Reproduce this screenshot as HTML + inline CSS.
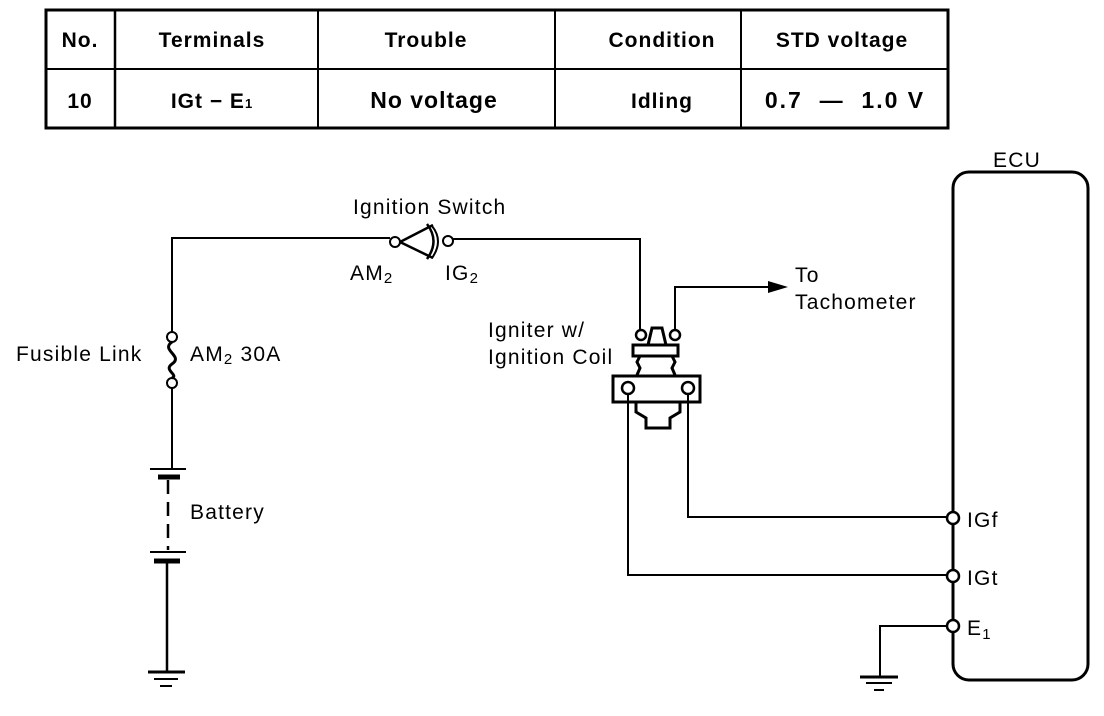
<!DOCTYPE html>
<html><head><meta charset="utf-8"><style>
html,body{margin:0;padding:0;background:#fff;}
svg{display:block;}
text{font-family:"Liberation Sans",sans-serif;fill:#000;}
</style></head><body>
<svg width="1104" height="716" viewBox="0 0 1104 716" xmlns="http://www.w3.org/2000/svg">
<g fill="none" stroke="#000">
<rect x="46" y="10" width="902" height="118" stroke-width="3"/>
<line x1="46" y1="69" x2="948" y2="69" stroke-width="2"/>
<line x1="115" y1="10" x2="115" y2="128" stroke-width="2.5"/>
<line x1="318" y1="10" x2="318" y2="128" stroke-width="2"/>
<line x1="555" y1="10" x2="555" y2="128" stroke-width="2"/>
<line x1="741" y1="10" x2="741" y2="128" stroke-width="2"/>

<polyline points="172,332 172,238 390,238" stroke-width="2"/>
<circle cx="395" cy="242" r="5" stroke-width="2"/>
<path d="M400,242 L433,225 M400,242 L433,258 M427,224 Q440,241 427,259" stroke-width="2.5"/>
<path d="M432,226 Q444,241 432,258" stroke-width="2"/>
<circle cx="448" cy="241" r="5" stroke-width="2"/>
<polyline points="453,239 640,239 640,330" stroke-width="2"/>

<circle cx="172" cy="337" r="5" stroke-width="2"/>
<path d="M172,342 C160,350 184,356 172,364 C163,370 179,375 172,378" stroke-width="3"/>
<circle cx="172" cy="383" r="5" stroke-width="2"/>
<line x1="172" y1="388" x2="172" y2="469" stroke-width="2"/>
<line x1="150" y1="469" x2="186" y2="469" stroke-width="2"/>
<line x1="158" y1="477" x2="180" y2="477" stroke-width="5"/>
<line x1="168" y1="480" x2="168" y2="550" stroke-width="2.5" stroke-dasharray="14,8"/>
<line x1="150" y1="552" x2="186" y2="552" stroke-width="2"/>
<line x1="154" y1="561" x2="180" y2="561" stroke-width="5"/>
<line x1="167" y1="561" x2="167" y2="672" stroke-width="2.5"/>
<line x1="148" y1="672" x2="185" y2="672" stroke-width="3"/>
<line x1="154" y1="679" x2="178" y2="679" stroke-width="2"/>
<line x1="160" y1="686" x2="172" y2="686" stroke-width="2"/>

<path d="M648,345 L652,328 L662,328 L666,345" stroke-width="3"/>
<circle cx="641" cy="335" r="5" stroke-width="2.5"/>
<circle cx="675" cy="335" r="5" stroke-width="2.5"/>
<rect x="633" y="345" width="45" height="11" stroke-width="3"/>
<path d="M640,356 L637,362 L640,368 L637,375 M672,356 L675,362 L672,368 L675,375" stroke-width="3"/>
<rect x="613" y="376" width="87" height="26" stroke-width="3"/>
<circle cx="628" cy="388" r="6" stroke-width="2.5"/>
<circle cx="688" cy="388" r="6" stroke-width="2.5"/>
<path d="M636,402 L636,412 L646,418 L646,428 L670,428 L670,418 L680,412 L680,402" stroke-width="3"/>
<polyline points="675,330 675,287 770,287" stroke-width="2"/>
<polygon points="768,281 788,287 768,293" fill="#000" stroke="none"/>
<polyline points="628,394 628,575 948,575" stroke-width="2"/>
<polyline points="688,394 688,517 948,517" stroke-width="2"/>

<rect x="953" y="172" width="135" height="508" rx="16" stroke-width="3"/>
<circle cx="953" cy="518" r="6" fill="#fff" stroke-width="2.5"/>
<circle cx="953" cy="576" r="6" fill="#fff" stroke-width="2.5"/>
<circle cx="953" cy="626" r="6" fill="#fff" stroke-width="2.5"/>
<polyline points="947,626 880,626 880,677" stroke-width="2"/>
<line x1="860" y1="677" x2="898" y2="677" stroke-width="3"/>
<line x1="866" y1="683" x2="892" y2="683" stroke-width="2"/>
<line x1="874" y1="690" x2="884" y2="690" stroke-width="2"/>
</g>

<g font-weight="bold" font-size="21" text-anchor="middle" letter-spacing="1">
<text x="80" y="47">No.</text>
<text x="212" y="47">Terminals</text>
<text x="426" y="47">Trouble</text>
<text x="662" y="47">Condition</text>
<text x="842" y="47">STD voltage</text>
<text x="80" y="108">10</text>
<text x="212" y="108">IGt  −  E<tspan font-size="13">1</tspan></text>
<text x="434" y="108" font-size="23">No voltage</text>
<text x="662" y="108">Idling</text>
<text x="845" y="108" font-size="23" letter-spacing="2" xml:space="preserve">0.7  —  1.0 V</text>
</g>

<g font-size="21" letter-spacing="1.2">
<text x="353" y="214">Ignition Switch</text>
<text x="350" y="280">AM<tspan font-size="15" dy="3">2</tspan></text>
<text x="445" y="280">IG<tspan font-size="15" dy="3">2</tspan></text>
<text x="16" y="361">Fusible Link</text>
<text x="190" y="361">AM<tspan font-size="15" dy="3">2</tspan><tspan dy="-3"> 30A</tspan></text>
<text x="190" y="519">Battery</text>
<text x="488" y="337">Igniter w/</text>
<text x="488" y="364">Ignition Coil</text>
<text x="795" y="282">To</text>
<text x="795" y="309">Tachometer</text>
<text x="993" y="167">ECU</text>
<text x="967" y="527">IGf</text>
<text x="967" y="585">IGt</text>
<text x="967" y="635">E<tspan font-size="15" dy="4">1</tspan></text>
</g>
</svg>
</body></html>
